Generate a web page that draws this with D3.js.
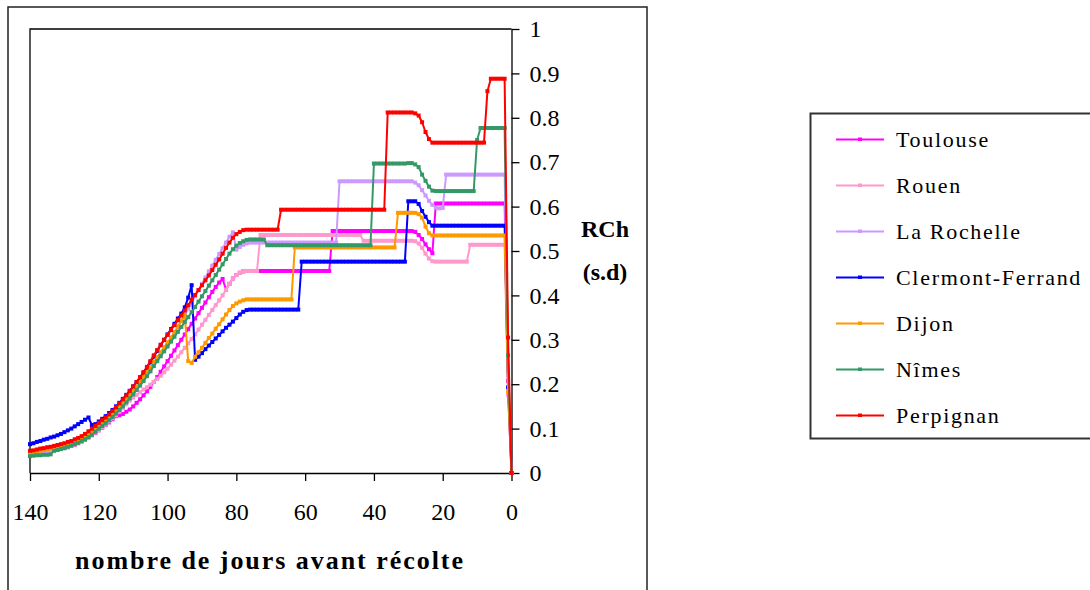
<!DOCTYPE html>
<html lang="fr">
<head>
<meta charset="UTF-8">
<title>RCh</title>
<script src="https://d3js.org/d3.v7.min.js"></script>
<style>
  body { margin: 0; background: #fff; }
  svg { display: block; }
  svg text { font-family: "Liberation Serif", Tinos, "Times New Roman", "DejaVu Serif", serif; }
</style>
</head>
<body>
<div id="chart"></div>
<script>
// days before harvest, 140 ... 0 (one value per day)
const days = d3.range(140, -1, -1);

const toulouse = [
  .041,.042,.043,.045,.046,.048,.049,.051,.052,.054,
  .056,.058,.061,.064,.067,.071,.075,.080,.085,.090,
  .096,.102,.108,.114,.121,.128,.130,.133,.138,.143,
  .150,.158,.166,.175,.184,.194,.205,.216,.228,.240,
  .252,.264,.276,.288,.300,.312,.324,.336,.348,.360,
  .372,.384,.396,.408,.419,.429,.437,.413,.426,.438,
  .446,.451,.454,.455,.455,.455,.455,.455,.455,.455,
  .455,.455,.455,.455,.455,.455,.455,.455,.455,.455,
  .455,.455,.455,.455,.455,.455,.455,.455,.545,.545,
  .545,.545,.545,.545,.545,.545,.545,.545,.545,.545,
  .545,.545,.545,.545,.545,.545,.545,.545,.545,.545,
  .545,.545,.543,.536,.527,.515,.504,.495,.607,.607,
  .607,.607,.607,.607,.607,.607,.607,.607,.607,.607,
  .607,.607,.607,.607,.607,.607,.607,.607,.607,.207,
  0];

const rouen = [
  .042,.043,.044,.045,.047,.048,.050,.051,.053,.055,
  .057,.059,.062,.065,.068,.072,.076,.081,.086,.091,
  .097,.103,.109,.116,.123,.130,.138,.146,.155,.163,
  .170,.176,.182,.188,.193,.199,.205,.212,.219,.227,
  .235,.244,.253,.262,.272,.282,.292,.302,.312,.323,
  .334,.345,.356,.367,.378,.389,.400,.413,.426,.438,
  .446,.451,.454,.455,.455,.455,.455,.536,.536,.536,
  .536,.536,.536,.536,.536,.536,.536,.536,.536,.536,
  .536,.536,.536,.536,.536,.536,.536,.536,.536,.536,
  .536,.536,.536,.536,.536,.536,.536,.523,.523,.523,
  .523,.523,.523,.523,.523,.523,.523,.523,.523,.523,
  .523,.523,.522,.517,.507,.494,.483,.477,.476,.476,
  .476,.476,.476,.476,.476,.476,.476,.476,.514,.514,
  .514,.514,.514,.514,.514,.514,.514,.514,.514,.176,
  0];

const laRochelle = [
  .042,.043,.044,.046,.047,.049,.050,.052,.054,.056,
  .058,.060,.063,.066,.069,.073,.077,.082,.087,.093,
  .099,.105,.111,.118,.125,.133,.141,.150,.159,.168,
  .178,.188,.198,.209,.220,.231,.243,.255,.267,.279,
  .291,.303,.316,.329,.342,.356,.370,.384,.398,.412,
  .426,.440,.454,.467,.480,.493,.506,.519,.532,.542,
  .503,.509,.514,.517,.519,.519,.519,.519,.519,.519,
  .519,.519,.519,.519,.519,.519,.519,.519,.519,.519,
  .519,.519,.519,.519,.519,.519,.519,.519,.519,.519,
  .657,.657,.657,.657,.657,.657,.657,.657,.657,.657,
  .657,.657,.657,.657,.657,.657,.657,.657,.657,.657,
  .657,.657,.654,.648,.637,.625,.613,.604,.598,.596,
  .597,.672,.672,.672,.672,.672,.672,.672,.672,.672,
  .672,.672,.672,.672,.672,.672,.672,.672,.672,.231,
  0];

const clermont = [
  .065,.067,.070,.072,.075,.077,.080,.082,.085,.088,
  .092,.096,.100,.105,.110,.115,.120,.125,.108,.110,
  .116,.122,.128,.135,.142,.150,.158,.167,.176,.185,
  .195,.205,.215,.226,.237,.249,.262,.275,.288,.300,
  .312,.324,.336,.348,.359,.373,.395,.423,.255,.262,
  .270,.279,.287,.295,.303,.311,.319,.327,.334,.341,
  .349,.357,.363,.367,.368,.368,.368,.368,.368,.368,
  .368,.368,.368,.368,.368,.368,.368,.368,.368,.476,
  .476,.476,.476,.476,.476,.476,.476,.476,.476,.476,
  .476,.476,.476,.476,.476,.476,.476,.476,.476,.476,
  .476,.476,.476,.476,.476,.476,.476,.476,.476,.476,
  .612,.612,.612,.606,.590,.577,.565,.557,.557,.557,
  .557,.557,.557,.557,.557,.557,.557,.557,.557,.557,
  .557,.557,.557,.557,.557,.557,.557,.557,.557,.193,
  0];

const dijon = [
  .046,.047,.049,.050,.052,.053,.055,.056,.058,.060,
  .062,.065,.068,.071,.074,.078,.083,.088,.094,.100,
  .106,.112,.118,.125,.132,.140,.148,.157,.166,.175,
  .185,.195,.205,.216,.227,.238,.250,.261,.272,.283,
  .294,.305,.317,.330,.343,.356,.252,.248,.262,.272,
  .282,.293,.304,.314,.325,.335,.346,.357,.367,.376,
  .382,.386,.389,.391,.391,.391,.391,.391,.391,.391,
  .391,.391,.391,.391,.391,.391,.391,.508,.508,.508,
  .508,.508,.508,.508,.508,.508,.508,.508,.508,.508,
  .508,.508,.508,.508,.508,.508,.508,.508,.508,.508,
  .508,.508,.508,.508,.508,.508,.508,.586,.586,.586,
  .586,.586,.586,.583,.575,.555,.540,.535,.535,.535,
  .535,.535,.535,.535,.535,.535,.535,.535,.535,.535,
  .535,.535,.535,.535,.535,.535,.535,.535,.535,.183,
  0];

const nimes = [
  .038,.039,.040,.040,.041,.041,.042,.050,.052,.054,
  .056,.059,.062,.065,.068,.072,.076,.081,.086,.093,
  .100,.106,.112,.119,.126,.134,.142,.150,.159,.168,
  .177,.187,.197,.207,.218,.229,.241,.252,.263,.274,
  .285,.296,.307,.318,.329,.340,.351,.362,.374,.386,
  .398,.410,.422,.434,.446,.458,.470,.482,.494,.504,
  .512,.518,.522,.525,.526,.526,.526,.526,.526,.513,
  .513,.513,.513,.513,.513,.513,.513,.513,.513,.513,
  .513,.513,.513,.513,.513,.513,.513,.513,.513,.513,
  .513,.513,.513,.513,.513,.513,.513,.513,.513,.513,
  .697,.697,.697,.697,.697,.697,.697,.697,.697,.697,
  .698,.698,.695,.689,.672,.658,.645,.636,.635,.635,
  .635,.635,.635,.635,.635,.635,.635,.635,.635,.635,
  .750,.777,.777,.777,.777,.777,.777,.777,.777,.265,
  0];

const perpignan = [
  .050,.051,.053,.055,.056,.058,.059,.061,.063,.065,
  .067,.070,.072,.076,.079,.083,.088,.094,.100,.106,
  .113,.119,.125,.132,.140,.148,.157,.166,.175,.185,
  .195,.205,.216,.227,.239,.252,.265,.277,.289,.300,
  .311,.322,.333,.344,.355,.366,.378,.390,.401,.412,
  .423,.434,.445,.457,.469,.481,.494,.507,.519,.530,
  .538,.543,.547,.548,.548,.548,.548,.548,.548,.548,
  .548,.548,.548,.593,.593,.593,.593,.593,.593,.593,
  .593,.593,.593,.593,.593,.593,.593,.593,.593,.593,
  .593,.593,.593,.593,.593,.593,.593,.593,.593,.593,
  .593,.593,.593,.593,.812,.812,.812,.812,.812,.812,
  .812,.812,.810,.805,.790,.768,.752,.744,.744,.744,
  .744,.744,.744,.744,.744,.744,.744,.744,.744,.744,
  .744,.744,.744,.860,.888,.888,.888,.888,.888,.305,
  0];

const names = ["Toulouse", "Rouen", "La Rochelle", "Clermont-Ferrand", "Dijon", "Nîmes", "Perpignan"];
const values = [toulouse, rouen, laRochelle, clermont, dijon, nimes, perpignan];
const colors = ["#ff00ff", "#ff99cc", "#cc99ff", "#0000ff", "#ff9900", "#339966", "#ff0000"];

const xTicks = [140, 120, 100, 80, 60, 40, 20, 0];
const yTicks = [0, 0.1, 0.2, 0.3, 0.4, 0.5, 0.6, 0.7, 0.8, 0.9, 1];

const width = 1090, height = 590;

const svg = d3.select("#chart").append("svg")
    .attr("width", width)
    .attr("height", height);

svg.append("rect").attr("width", width).attr("height", height).attr("fill", "#fff");

// outer chart border (runs off the bottom of the picture)
svg.append("rect")
    .attr("x", 8).attr("y", 7)
    .attr("width", 639).attr("height", 600)
    .attr("fill", "none").attr("stroke", "#222").attr("stroke-width", 1.5);

const x = d3.scaleLinear().domain([140, 0]).range([30, 511.5]);
const y = d3.scaleLinear().domain([0, 1]).range([473, 29]);

// plot frame: left and top
svg.append("path")
    .attr("d", `M${x(140)},${y(0)}V${y(1)}H${x(0)}`)
    .attr("fill", "none").attr("stroke", "#000").attr("stroke-width", 1.3);

const xAxis = d3.axisBottom(x).tickValues(xTicks).tickSize(8).tickSizeOuter(0)
    .tickPadding(22).tickFormat(d => d);
const gx = svg.append("g").attr("transform", `translate(0,${y(0)})`).call(xAxis);

const yAxis = d3.axisRight(y).tickValues(yTicks).tickSize(8).tickSizeOuter(0)
    .tickPadding(10).tickFormat(d => String(d));
const gy = svg.append("g").attr("transform", `translate(${x(0)},0)`).call(yAxis);

// d3 axes set font-family="sans-serif" on the group, drop it so the css serif applies
[gx, gy].forEach(g => {
  g.attr("font-family", null).attr("font-size", null);
  g.selectAll("path, line").attr("stroke", "#000").attr("stroke-width", 1.3);
  g.selectAll("text").style("font-size", "24px").attr("fill", "#000");
});

// series
const line = d3.line().x(d => x(d.day)).y(d => y(d.v));

values.forEach((vals, i) => {
  const pts = days.map((day, k) => ({day: day, v: vals[k]}));
  const g = svg.append("g");
  g.append("path")
      .datum(pts)
      .attr("d", line)
      .attr("fill", "none")
      .attr("stroke", colors[i])
      .attr("stroke-width", 2)
      .attr("stroke-linejoin", "round");
  g.selectAll("rect")
      .data(pts)
      .enter()
      .append("rect")
      .attr("x", d => x(d.day) - 2)
      .attr("y", d => y(d.v) - 2)
      .attr("width", 4)
      .attr("height", 4)
      .attr("fill", colors[i]);
});

// axis titles
svg.append("text")
    .attr("x", 269).attr("y", 569)
    .attr("text-anchor", "middle")
    .style("font-size", "26px").style("font-weight", "bold")
    .attr("textLength", 388).attr("lengthAdjust", "spacing")
    .text("nombre de jours avant récolte");

svg.append("text")
    .attr("x", 605).attr("y", 237)
    .attr("text-anchor", "middle")
    .style("font-size", "24px").style("font-weight", "bold")
    .text("RCh");
svg.append("text")
    .attr("x", 605).attr("y", 280)
    .attr("text-anchor", "middle")
    .style("font-size", "24px").style("font-weight", "bold")
    .text("(s.d)");

// legend
const legend = svg.append("g");
legend.append("rect")
    .attr("x", 810.5).attr("y", 113.5)
    .attr("width", 300).attr("height", 325)
    .attr("fill", "#fff").attr("stroke", "#333").attr("stroke-width", 2);

names.forEach((name, i) => {
  const ly = 139.5 + i * 46;
  legend.append("line")
      .attr("x1", 836).attr("x2", 884).attr("y1", ly).attr("y2", ly)
      .attr("stroke", colors[i]).attr("stroke-width", 2);
  legend.append("rect")
      .attr("x", 858).attr("y", ly - 2).attr("width", 4).attr("height", 3.5)
      .attr("fill", colors[i]);
  legend.append("text")
      .attr("x", 896).attr("y", ly + 7)
      .style("font-size", "22px")
      .style("letter-spacing", "1.7px")
      .text(name);
});
</script>
</body>
</html>
